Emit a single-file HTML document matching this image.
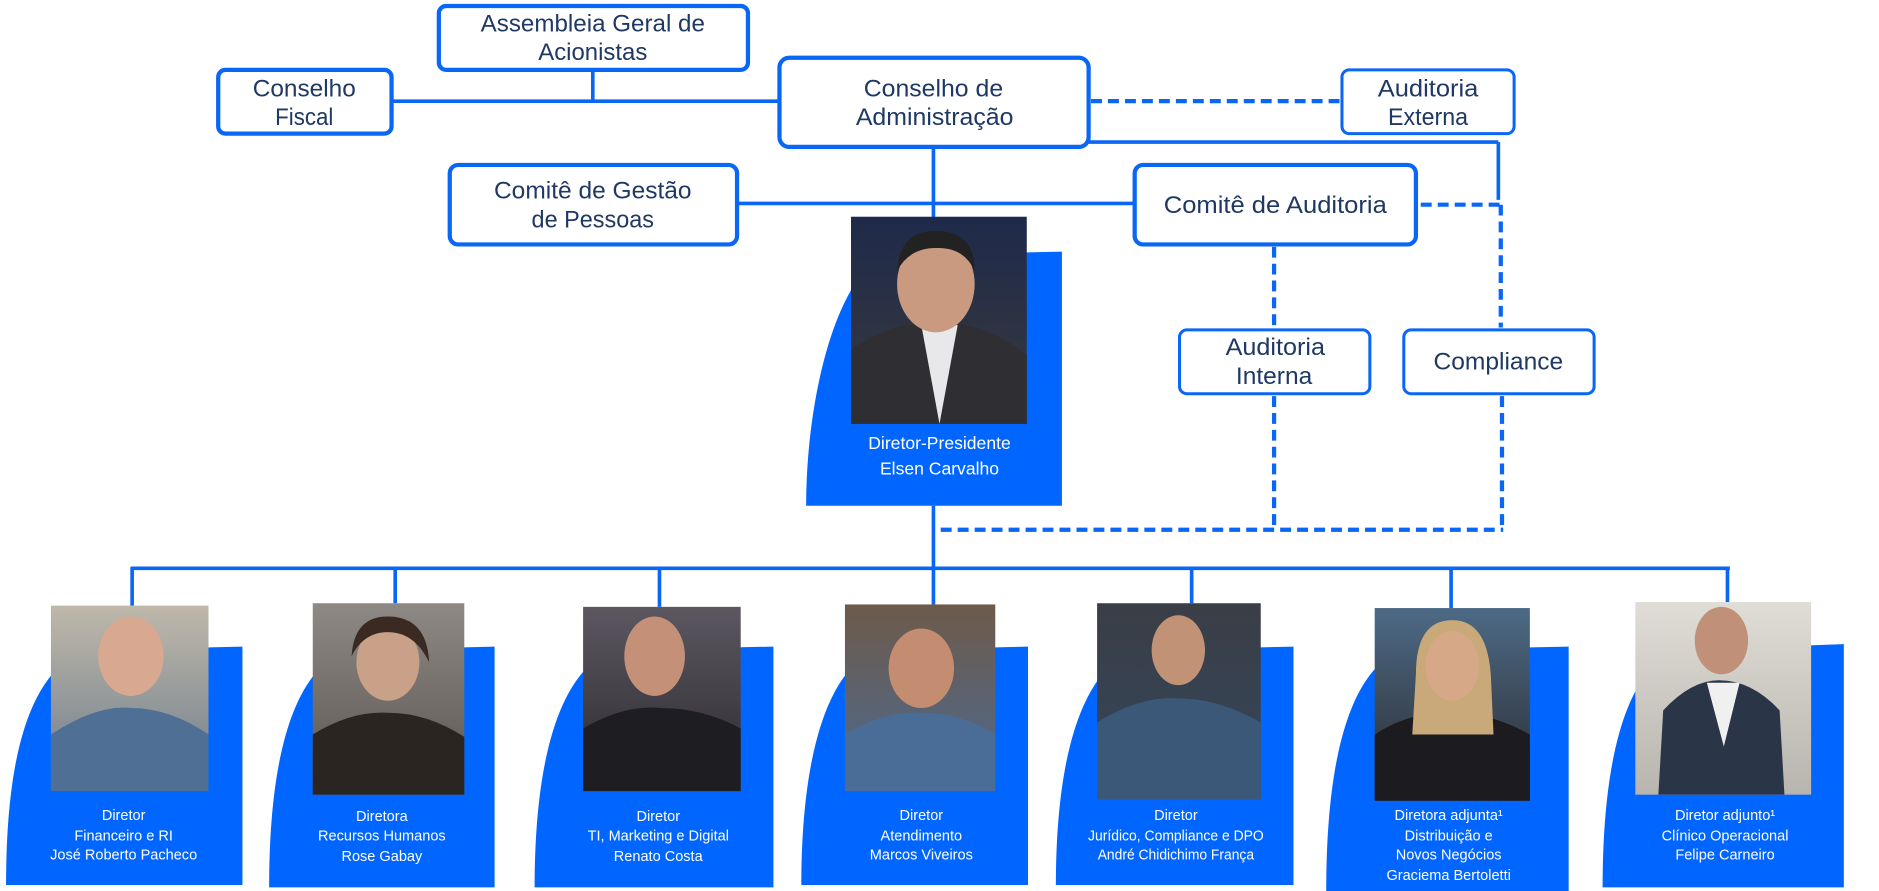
<!DOCTYPE html>
<html><head><meta charset="utf-8"><style>
html,body{margin:0;padding:0;background:#fff;overflow:hidden}
svg{display:block}
.b{font-family:"Liberation Sans",sans-serif;font-size:20px;fill:#1f3864;text-anchor:middle}
.w{font-family:"Liberation Sans Narrow","Liberation Sans",sans-serif;font-size:12px;fill:#fff;text-anchor:middle}
.p{font-family:"Liberation Sans Narrow","Liberation Sans",sans-serif;font-size:14.5px;fill:#fff;text-anchor:middle}
</style></head><body>
<svg width="1879" height="891" viewBox="0 0 1550 740" preserveAspectRatio="none" xmlns="http://www.w3.org/2000/svg">
<defs>
<linearGradient id="g1" x1="0" y1="0" x2="0" y2="1"><stop offset="0" stop-color="#bfb8aa"/><stop offset="1" stop-color="#6c7c8c"/></linearGradient>
<linearGradient id="g2" x1="0" y1="0" x2="0" y2="1"><stop offset="0" stop-color="#8e8984"/><stop offset="1" stop-color="#5a5450"/></linearGradient>
<linearGradient id="g3" x1="0" y1="0" x2="0" y2="1"><stop offset="0" stop-color="#5c5760"/><stop offset="1" stop-color="#2a2a2e"/></linearGradient>
<linearGradient id="g4" x1="0" y1="0" x2="0" y2="1"><stop offset="0" stop-color="#6d5a4a"/><stop offset="1" stop-color="#4c6a92"/></linearGradient>
<linearGradient id="g5" x1="0" y1="0" x2="0" y2="1"><stop offset="0" stop-color="#3a3e46"/><stop offset="1" stop-color="#34465c"/></linearGradient>
<linearGradient id="g6" x1="0" y1="0" x2="0" y2="1"><stop offset="0" stop-color="#4d6a86"/><stop offset="1" stop-color="#2a2a2e"/></linearGradient>
<linearGradient id="g7" x1="0" y1="0" x2="0" y2="1"><stop offset="0" stop-color="#e0dcd6"/><stop offset="1" stop-color="#b8b4ae"/></linearGradient>
<linearGradient id="g0" x1="0" y1="0" x2="0" y2="1"><stop offset="0" stop-color="#1e2a4a"/><stop offset="1" stop-color="#3a3a3e"/></linearGradient>
</defs>
<g stroke="#0a66f5" fill="none">
<line x1="323" y1="84" x2="643" y2="84" stroke-width="3"/>
<line x1="489" y1="58" x2="489" y2="84" stroke-width="3"/>
<line x1="898" y1="118" x2="1236" y2="118" stroke-width="3"/>
<line x1="1236" y1="118" x2="1236" y2="166" stroke-width="3"/>
<line x1="770" y1="122" x2="770" y2="182" stroke-width="3"/>
<line x1="608" y1="169" x2="936" y2="169" stroke-width="3"/>
<line x1="770" y1="420" x2="770" y2="472" stroke-width="3"/>
<line x1="108" y1="472" x2="1427" y2="472" stroke-width="3"/>
<line x1="109" y1="471" x2="109" y2="503" stroke-width="3"/>
<line x1="326" y1="471" x2="326" y2="501" stroke-width="3"/>
<line x1="544" y1="471" x2="544" y2="504" stroke-width="3"/>
<line x1="770" y1="471" x2="770" y2="502" stroke-width="3"/>
<line x1="983" y1="471" x2="983" y2="501" stroke-width="3"/>
<line x1="1197" y1="471" x2="1197" y2="505" stroke-width="3"/>
<line x1="1425" y1="471" x2="1425" y2="500" stroke-width="3"/>
<g stroke-dasharray="9,5" stroke-width="3.5">
<line x1="900" y1="84" x2="1107" y2="84"/>
<line x1="1172" y1="170" x2="1238" y2="170"/>
<line x1="1238" y1="170" x2="1238" y2="272"/>
<line x1="1051" y1="205" x2="1051" y2="274"/>
<line x1="1051" y1="329" x2="1051" y2="440"/>
<line x1="1239" y1="329" x2="1239" y2="440"/>
<line x1="776" y1="440" x2="1240" y2="440"/>
</g>
<rect x="362" y="5" width="255" height="53" rx="6" stroke-width="3.5"/>
<rect x="180" y="58" width="143" height="53" rx="6" stroke-width="3.5"/>
<rect x="643" y="48" width="255" height="74" rx="8" stroke-width="3.5"/>
<rect x="1107" y="58" width="142" height="53" rx="6" stroke-width="2.5"/>
<rect x="371" y="137" width="237" height="66" rx="7" stroke-width="3.5"/>
<rect x="936" y="137" width="232" height="66" rx="7" stroke-width="3.5"/>
<rect x="973" y="274" width="157" height="53" rx="6" stroke-width="2.5"/>
<rect x="1158" y="274" width="157" height="53" rx="6" stroke-width="2.5"/>
</g>
<g lengthAdjust="spacingAndGlyphs">
<text class="b" x="489" y="26" textLength="185" lengthAdjust="spacingAndGlyphs">Assembleia Geral de</text>
<text class="b" x="489" y="50" textLength="90" lengthAdjust="spacingAndGlyphs">Acionistas</text>
<text class="b" x="251" y="80" textLength="85" lengthAdjust="spacingAndGlyphs">Conselho</text>
<text class="b" x="251" y="104" textLength="48" lengthAdjust="spacingAndGlyphs">Fiscal</text>
<text class="b" x="770" y="80" textLength="115" lengthAdjust="spacingAndGlyphs">Conselho de</text>
<text class="b" x="771" y="104" textLength="130" lengthAdjust="spacingAndGlyphs">Administração</text>
<text class="b" x="1178" y="80" textLength="83" lengthAdjust="spacingAndGlyphs">Auditoria</text>
<text class="b" x="1178" y="104" textLength="66" lengthAdjust="spacingAndGlyphs">Externa</text>
<text class="b" x="489" y="165" textLength="163" lengthAdjust="spacingAndGlyphs">Comitê de Gestão</text>
<text class="b" x="489" y="189" textLength="101" lengthAdjust="spacingAndGlyphs">de Pessoas</text>
<text class="b" x="1052" y="177" textLength="184" lengthAdjust="spacingAndGlyphs">Comitê de Auditoria</text>
<text class="b" x="1052" y="295" textLength="82" lengthAdjust="spacingAndGlyphs">Auditoria</text>
<text class="b" x="1051" y="319" textLength="63" lengthAdjust="spacingAndGlyphs">Interna</text>
<text class="b" x="1236" y="307" textLength="107" lengthAdjust="spacingAndGlyphs">Compliance</text>
</g>

<path d="M665,420 C665,330 690,230 730,212 L876,209 L876,420 Z" fill="#0066ff"/>
<rect x="702" y="180" width="145" height="172" fill="url(#g0)"/>
<path d="M702,352 L702,290 Q740,265 775,268 Q815,268 847,295 L847,352 Z" fill="#2f2f33"/>
<path d="M760,270 L775,352 L790,270 Z" fill="#e8e8ea"/>
<ellipse cx="772" cy="236" rx="32" ry="40" fill="#c99a80"/>
<path d="M740,225 Q742,192 772,192 Q804,192 804,225 Q795,205 772,206 Q750,206 740,225Z" fill="#222"/>
<text class="p" x="775" y="373">Diretor-Presidente</text>
<text class="p" x="775" y="394">Elsen Carvalho</text>

<g>
<path d="M5,735 C5,640 20,560 70,540 L200,537 L200,735 Z" fill="#0066ff"/>
<rect x="42" y="503" width="130" height="154" fill="url(#g1)"/>
<path d="M42,657 L42,610 Q80,585 108,588 Q140,588 172,610 L172,657Z" fill="#4f6f95"/>
<ellipse cx="108" cy="545" rx="27" ry="33" fill="#d9a890"/>
<text class="w" x="102" y="681">Diretor</text><text class="w" x="102" y="698">Financeiro e RI</text><text class="w" x="102" y="714">José Roberto Pacheco</text>
</g>
<g>
<path d="M222,737 C222,640 238,560 285,540 L408,537 L408,737 Z" fill="#0066ff"/>
<rect x="258" y="501" width="125" height="159" fill="url(#g2)"/>
<path d="M258,660 L258,610 Q290,590 320,592 Q352,592 383,612 L383,660Z" fill="#2b2522"/>
<ellipse cx="320" cy="550" rx="26" ry="32" fill="#c9a088"/>
<path d="M290,545 Q292,512 320,512 Q352,512 354,550 Q342,525 320,525 Q300,525 290,545Z" fill="#3a2a22"/>
<text class="w" x="315" y="682">Diretora</text><text class="w" x="315" y="698">Recursos Humanos</text><text class="w" x="315" y="715">Rose  Gabay</text>
</g>
<g>
<path d="M441,737 C441,640 458,560 505,540 L638,537 L638,737 Z" fill="#0066ff"/>
<rect x="481" y="504" width="130" height="153" fill="url(#g3)"/>
<path d="M481,657 L481,605 Q515,585 545,588 Q580,588 611,605 L611,657Z" fill="#1e1e22"/>
<ellipse cx="540" cy="545" rx="25" ry="33" fill="#c49078"/>
<text class="w" x="543" y="682">Diretor</text><text class="w" x="543" y="698">TI, Marketing e Digital</text><text class="w" x="543" y="715">Renato Costa</text>
</g>
<g>
<path d="M661,735 C661,640 678,560 722,540 L848,537 L848,735 Z" fill="#0066ff"/>
<rect x="697" y="502" width="124" height="155" fill="url(#g4)"/>
<path d="M697,657 L697,610 Q730,590 760,592 Q792,592 821,610 L821,657Z" fill="#4a6d98"/>
<ellipse cx="760" cy="555" rx="27" ry="33" fill="#c48c70"/>
<text class="w" x="760" y="681">Diretor</text><text class="w" x="760" y="698">Atendimento</text><text class="w" x="760" y="714">Marcos Viveiros</text>
</g>
<g>
<path d="M871,735 C871,640 888,560 935,540 L1067,537 L1067,735 Z" fill="#0066ff"/>
<rect x="905" y="501" width="135" height="163" fill="url(#g5)"/>
<path d="M905,664 L905,600 Q940,578 972,580 Q1005,580 1040,600 L1040,664Z" fill="#3c5878"/>
<ellipse cx="972" cy="540" rx="22" ry="29" fill="#c29276"/>
<text class="w" x="970" y="681">Diretor</text><text class="w" x="970" y="698" textLength="145" lengthAdjust="spacingAndGlyphs">Jurídico, Compliance e DPO</text><text class="w" x="970" y="714" textLength="129" lengthAdjust="spacingAndGlyphs">André Chidichimo França</text>
</g>
<g>
<path d="M1094,740 C1094,640 1110,560 1155,540 L1294,537 L1294,740 Z" fill="#0066ff"/>
<rect x="1134" y="505" width="128" height="160" fill="url(#g6)"/>
<path d="M1134,665 L1134,610 Q1165,590 1198,592 Q1230,592 1262,610 L1262,665Z" fill="#1c1c20"/>
<path d="M1168,560 Q1168,515 1198,515 Q1228,515 1230,565 L1232,610 L1165,610Z" fill="#c9a97a"/>
<ellipse cx="1198" cy="553" rx="22" ry="29" fill="#d7a888"/>
<text class="w" x="1195" y="681">Diretora adjunta¹</text><text class="w" x="1195" y="698">Distribuição e</text><text class="w" x="1195" y="714">Novos Negócios</text><text class="w" x="1195" y="731">Graciema Bertoletti</text>
</g>
<g>
<path d="M1322,737 C1322,640 1338,560 1382,540 L1521,535 L1521,737 Z" fill="#0066ff"/>
<rect x="1349" y="500" width="145" height="160" fill="url(#g7)"/>
<path d="M1368,660 L1372,590 Q1395,565 1418,565 Q1445,565 1468,590 L1472,660Z" fill="#2a3548"/>
<path d="M1408,567 L1422,620 L1435,567Z" fill="#f0f0f0"/>
<ellipse cx="1420" cy="532" rx="22" ry="28" fill="#c09078"/>
<text class="w" x="1423" y="681">Diretor adjunto¹</text><text class="w" x="1423" y="698">Clínico Operacional</text><text class="w" x="1423" y="714">Felipe Carneiro</text>
</g>
</svg>
</body></html>
